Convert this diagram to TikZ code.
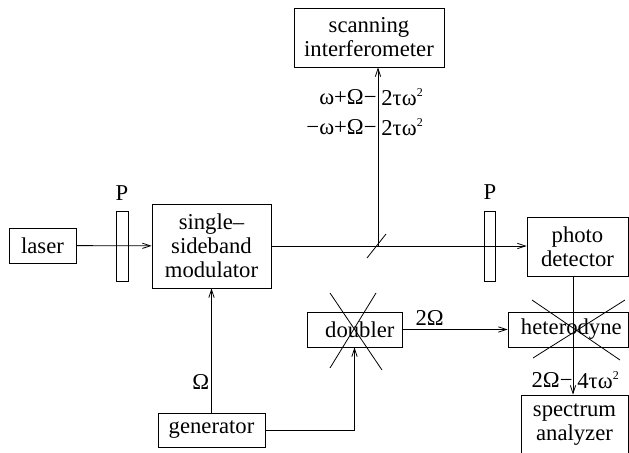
\documentclass[tikz,border=0pt]{standalone}
\usepackage{fontspec}
\setmainfont{Liberation Serif}
\newfontfamily\labelfont{Liberation Serif}
\usetikzlibrary{arrows.meta}

\tikzset{
  box/.style={draw, align=center, inner sep=2pt, font=\labelfont\fontsize{17}{18}\selectfont},
  plate/.style={draw, inner sep=0pt, minimum width=8.5pt, minimum height=52.5pt},
  lbl/.style={inner sep=1.5pt, font=\labelfont\fontsize{17}{18}\selectfont},
  beam/.style={-{Straight Barb[length=6pt,width=4pt]}},
  cross/.style={line width=0.6pt}
}

\begin{document}
\begin{tikzpicture}[x=0.75pt,y=-0.75pt,line width=0.6pt]
  \useasboundingbox (0,0) rectangle (629,453);

  \draw (42.5,245.5) node[box,minimum width=50.25pt,minimum height=26.25pt] (laser) {laser};
  \draw (122.5,246) node[plate] (pol1) {};
     \draw (122,193.5) node[lbl] (p1) {P};
  \draw (211.5,246) node[box,minimum width=89.25pt,minimum height=63pt] (mod) {single–\\sideband\\modulator};
  \draw (369,37.5) node[box,minimum width=112.5pt,minimum height=44.25pt] (interf) {scanning\\interferometer};
  \draw (490,246) node[plate] (pol2) {};
     \draw (490,192) node[lbl] (p2) {P};
  \draw (577.5,246.5) node[box,minimum width=75.75pt,minimum height=44.25pt] (photo) {photo\\detector};
  \draw (354.5,329.5) node[box,minimum width=71.25pt,minimum height=26.25pt] (doub) {\hspace{8pt}doubler};
  \draw (568,329.5) node[box,minimum width=90pt,minimum height=26.25pt] (het) {\hspace{5pt}heterodyne};
  \draw (574.5,424.5) node[box,minimum width=80.25pt,minimum height=44.25pt] (spec) {spectrum\\analyzer};
  \draw (211.5,430) node[box,minimum width=80.25pt,minimum height=25.5pt] (gen) {generator};

  \coordinate (split) at (378,246);

  \path[beam] (laser) edge (mod);
  \draw[beam] (mod.east) -- (photo.west |- mod.east);
  \draw (367,258) -- (386,234);
  \draw[beam] (split) -- (split |- interf.south);
      \draw (377,97) node[lbl,anchor=east,inner sep=0pt] (up1) {ω+Ω−};
      \draw (379,97) node[lbl,anchor=west] (up2) {2τω\textsuperscript{\small 2}};
      \draw (377,127) node[lbl,anchor=east,inner sep=0pt] (dn1) {−ω+Ω−};
      \draw (379,127) node[lbl,anchor=west] (dn2) {2τω\textsuperscript{\small 2}};

  \path[beam] (gen) edge node[lbl,pos=0.25,left] {Ω} (mod);
  \draw[beam] (gen.east) -| (doub.south);
  \path[beam] (doub) edge node[lbl,pos=0.26,above,inner sep=3pt] {2Ω} (het);
  \draw[beam] (573,0 |- photo.south) -- (573,0 |- spec.north);
      \draw (573,380) node[lbl,anchor=east,inner sep=0pt] (out1) {2Ω−};
      \draw (575,380) node[lbl,anchor=west] (out2) {4τω\textsuperscript{\small 2}};

  \draw[cross] (330,293) -- (382,370);
  \draw[cross] (376,293) -- (330,368);
  \draw[cross] (532,300) -- (620,360);
  \draw[cross] (625,300) -- (533,358);
\end{tikzpicture}
\end{document}
